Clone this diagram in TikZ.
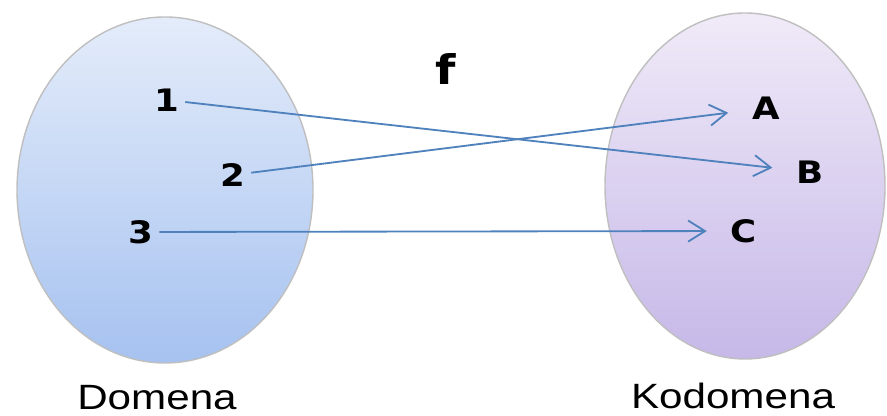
\documentclass[tikz,border=0pt]{standalone}
\usepackage{fontspec}
\setmainfont{DejaVu Sans}
\newfontfamily\capfont{Liberation Sans}
\usepackage{tikz}
\usetikzlibrary{shapes.geometric,arrows.meta,positioning,calc}

\definecolor{mapblue}{RGB}{79,129,189}
\definecolor{domtop}{RGB}{228,236,250}
\definecolor{dombot}{RGB}{166,194,240}
\definecolor{kodtop}{RGB}{240,234,248}
\definecolor{kodbot}{RGB}{198,184,232}

\begin{document}
\begin{tikzpicture}[
    set/.style={ellipse, draw=gray!50, line width=1pt, inner sep=0pt},
    elem/.style={inner sep=0pt, xscale=1.15, font=\bfseries\fontsize{22}{27}\selectfont},
    setname/.style={inner sep=0pt, anchor=base, xscale=1.2, font=\capfont\fontsize{25}{30}\selectfont},
    map/.style={draw=mapblue, line width=1.3pt, -{Straight Barb[length=12pt,width=15pt]},
        shorten <=4pt, shorten >=17pt}
]
\useasboundingbox (0,0) rectangle (22.175,10.4);

% the two sets
\node[set, top color=domtop, bottom color=dombot,
    minimum width=7.4cm, minimum height=8.65cm] (dom) at (4.125,5.65) {};
\node[set, top color=kodtop, bottom color=kodbot,
    minimum width=7cm, minimum height=8.65cm] (kod) at (18.625,5.75) {};

\node[elem] (n1) at (4.175,7.9) {1};
\node[elem] (n2) at (5.825,6.025) {2};
\node[elem] (n3) at (3.525,4.6) {3};

\node[elem] (nA) at (19.15,7.7) {A};
\node[elem] (nB) at (20.25,6.1) {B};
\node[elem] (nC) at (18.6,4.625) {C};

\node[elem, anchor=base, font=\bfseries\fontsize{29}{35}\selectfont] (fname) at (11.15,8.275) {f};

\node[setname] (domlabel) at (3.925,0.15) {Domena};
\node[setname] (kodlabel) at (18.325,0.175) {Kodomena};

\draw[map] (n1) -- (nB);
\draw[map] (n2) -- (nA);
\draw[map] (n3) -- (nC);
\end{tikzpicture}
\end{document}
